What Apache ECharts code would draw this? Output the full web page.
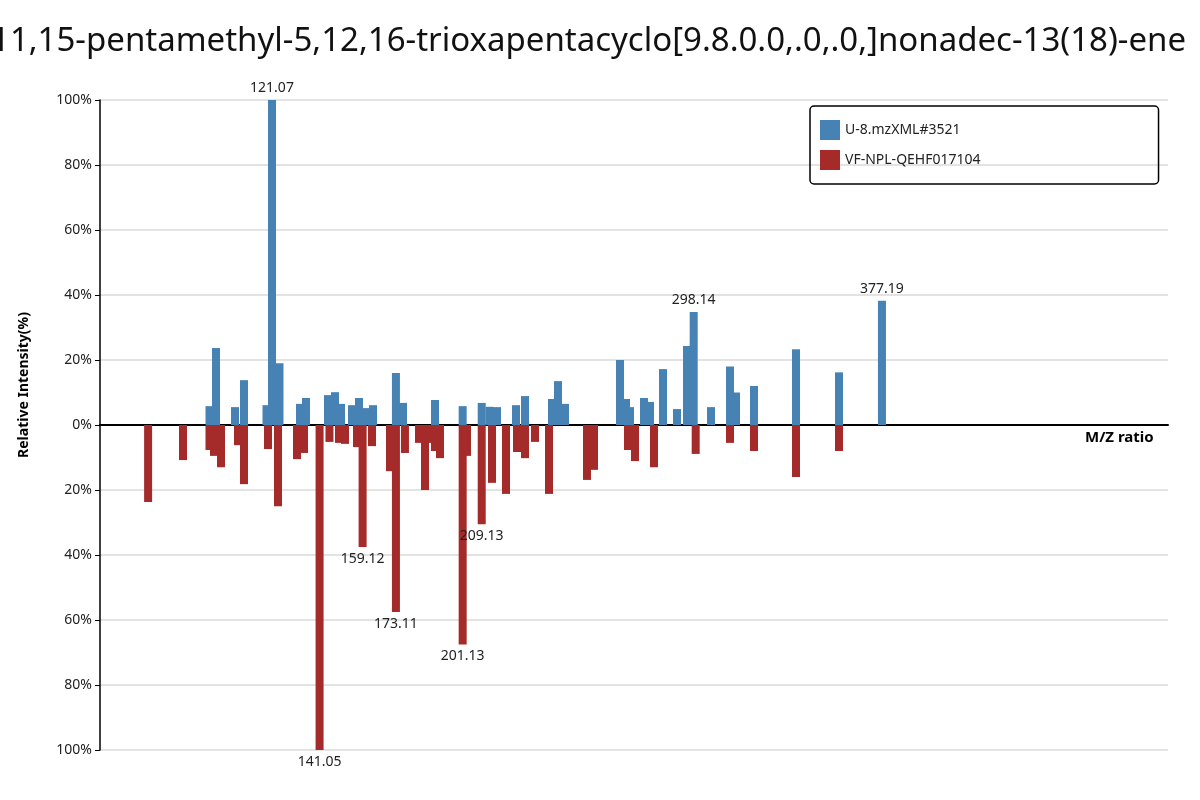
<!DOCTYPE html>
<html lang="en">
<head>
<meta charset="UTF-8">
<title>Mirror spectrum</title>
<style>
  * { margin: 0; padding: 0; }
  #chart { width: 1200px; height: 800px; }
</style>
</head>
<body>
<div id="chart"></div>
<script src="https://cdn.jsdelivr.net/npm/echarts@6/dist/echarts.min.js"></script>
<script>
// query spectrum (upper, blue)
var queryMz = [94.83, 97.56, 105.53, 109.31, 118.76, 121.07, 124.22, 132.83, 135.35, 144.59, 147.53, 150.04,
  154.66, 157.6, 160.54, 163.5, 173.11, 176.07, 189.52, 201.13, 209.13, 212.4, 215.55, 223.53, 227.31,
  238.64, 241.16, 244.1, 267.2, 269.71, 271.4, 277.27, 279.79, 285.25, 291.13, 295.33, 298.14, 305.41,
  313.38, 315.9, 323.46, 341.1, 359.15, 377.19];
var queryInt = [5.8, 23.7, 5.5, 13.8, 6.1, 100, 19, 6.5, 8.3, 9.2, 10.1, 6.5,
  6.1, 8.3, 5.2, 6.1, 16, 6.8, 7.7, 5.8, 6.8, 5.6, 5.5, 6.1, 8.9,
  8, 13.5, 6.5, 20, 8, 5.5, 8.3, 7.1, 17.2, 4.9, 24.3, 34.8, 5.5,
  18, 10, 12, 23.3, 16.2, 38.2];
// library spectrum (lower, red)
var libMz = [69.05, 83.7, 94.83, 96.72, 99.66, 106.79, 109.31, 119.39, 123.59, 131.57, 134.5, 141.05,
  145.2, 149.2, 151.72, 156.76, 159.12, 163.07, 170.62, 173.11, 176.9, 182.8, 185.32, 187.42, 189.52,
  191.61, 201.13, 202.95, 209.13, 213.45, 219.33, 223.95, 227.31, 231.5, 237.38, 253.34, 256.28, 270.55,
  273.5, 281.47, 298.98, 313.38, 323.46, 341.1, 359.15];
var libInt = [23.7, 10.8, 7.7, 9.5, 13, 6.2, 18.2, 7.4, 25, 10.5, 8.6, 100,
  5.2, 5.5, 5.8, 6.8, 37.5, 6.5, 14.2, 57.5, 8.6, 5.5, 20, 5.5, 8,
  10.2, 67.5, 9.5, 30.5, 17.8, 21.2, 8.3, 10.2, 5.2, 21.2, 16.9, 13.8, 7.7,
  11.1, 13, 8.9, 5.5, 8, 16, 8];
var queryLabels = [121.07, 298.14, 377.19];
var libLabels = [141.05, 159.12, 173.11, 201.13, 209.13];

var titleText = '11,15-pentamethyl-5,12,16-trioxapentacyclo[9.8.0.0,.0,.0,]nonadec-13(18)-ene';

function buildData(mz, inten, labels, sign) {
  return mz.map(function (m, i) {
    var item = { value: [m, sign * inten[i]] };
    if (labels.indexOf(m) >= 0) {
      item.label = { show: true, formatter: m.toFixed(2) };
    }
    return item;
  });
}

var chart = echarts.init(document.getElementById('chart'));
chart.setOption({
  animation: false,
  textStyle: { fontFamily: 'Noto Sans' },
  title: {
    text: titleText,
    left: -14,
    top: 20,
    textStyle: { fontSize: 33, fontWeight: 'normal', color: '#111', fontFamily: 'Noto Sans' }
  },
  legend: {
    orient: 'vertical',
    left: 810,
    top: 106,
    padding: [14, 178, 14, 10],
    itemWidth: 20,
    itemHeight: 20,
    itemGap: 10,
    borderColor: '#000',
    borderWidth: 1.5,
    borderRadius: 4,
    icon: 'rect',
    textStyle: { fontSize: 14, color: '#222' },
    data: ['U-8.mzXML#3521', 'VF-NPL-QEHF017104']
  },
  grid: { left: 100, right: 32, top: 100, bottom: 50 },
  xAxis: {
    type: 'value',
    min: 48.85,
    max: 497.3,
    axisLine: { onZero: true, lineStyle: { color: '#000', width: 2 } },
    axisTick: { show: false },
    axisLabel: { show: false },
    splitLine: { show: false }
  },
  yAxis: {
    type: 'value',
    min: -100,
    max: 100,
    interval: 20,
    axisLine: { show: true, lineStyle: { color: '#000', width: 1.5 } },
    axisTick: { show: true, length: 5, lineStyle: { color: '#000' } },
    axisLabel: {
      fontSize: 14, color: '#222',
      formatter: function (v) { return Math.abs(v) + '%'; }
    },
    splitLine: { show: true, lineStyle: { color: '#e3e3e3', width: 2 } }
  },
  graphic: [
    { type: 'text', left: 1085, top: 430, style: { text: 'M/Z ratio', font: 'bold 15px Noto Sans', fill: '#000' } },
    { type: 'text', x: 24, y: 385, rotation: Math.PI / 2,
      style: { text: 'Relative Intensity(%)', font: 'bold 14px Noto Sans', fill: '#000', align: 'center', verticalAlign: 'middle' } }
  ],
  series: [
    {
      name: 'U-8.mzXML#3521',
      type: 'bar',
      barWidth: 8,
      barGap: '-100%',
      itemStyle: { color: '#4682b4' },
      label: { position: 'top', fontSize: 14, color: '#222' },
      data: buildData(queryMz, queryInt, queryLabels, 1)
    },
    {
      name: 'VF-NPL-QEHF017104',
      type: 'bar',
      barWidth: 8,
      barGap: '-100%',
      itemStyle: { color: '#a52a2a' },
      label: { position: 'bottom', fontSize: 14, color: '#222' },
      data: buildData(libMz, libInt, libLabels, -1)
    }
  ]
});
</script>
</body>
</html>
